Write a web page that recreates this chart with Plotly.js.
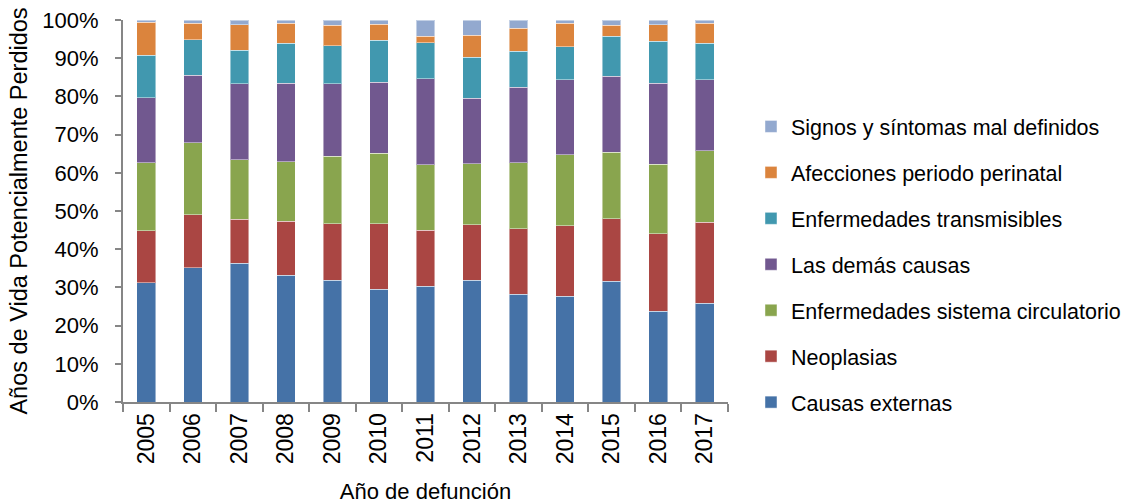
<!DOCTYPE html>
<html>
<head>
<meta charset="utf-8">
<script src="https://cdn.plot.ly/plotly-3.0.1.min.js"></script>
<style>html,body{margin:0;padding:0;background:#fff;}#chart{width:1131px;height:504px;}</style>
</head>
<body>
<div id="chart"></div>
<script>
const years = ['2005','2006','2007','2008','2009','2010','2011','2012','2013','2014','2015','2016','2017'];
const causasExternas = [31.2, 35.1, 36.3, 33.2, 31.9, 29.5, 30.3, 31.9, 28.2, 27.7, 31.6, 23.8, 25.9];
const neoplasias = [13.6, 13.9, 11.5, 14.1, 14.8, 17.2, 14.7, 14.5, 17.2, 18.4, 16.4, 20.3, 21.2];
const circulatorio = [17.8, 18.9, 15.6, 15.6, 17.6, 18.4, 17.1, 16.0, 17.2, 18.6, 17.4, 18.2, 18.7];
const demasCausas = [17.1, 17.6, 19.9, 20.6, 19.0, 18.6, 22.5, 17.1, 19.8, 19.6, 19.9, 21.1, 18.5];
const transmisibles = [11.1, 9.3, 8.8, 10.4, 9.9, 11.0, 9.4, 10.8, 9.4, 8.7, 10.4, 11.0, 9.6];
const perinatal = [8.6, 4.3, 6.7, 5.3, 5.4, 4.2, 1.7, 5.7, 6.0, 6.2, 2.9, 4.4, 5.3];
const signos = [0.6, 0.9, 1.2, 0.8, 1.4, 1.1, 4.3, 4.0, 2.2, 0.8, 1.4, 1.2, 0.8];

const seriesNames = ['Causas externas','Neoplasias','Enfermedades sistema circulatorio','Las demás causas','Enfermedades transmisibles','Afecciones periodo perinatal','Signos y síntomas mal definidos'];
const seriesValues = [causasExternas, neoplasias, circulatorio, demasCausas, transmisibles, perinatal, signos];
const colors = ['#4572A7','#AA4643','#89A54E','#71588F','#4198AF','#DB843D','#93A9CF'];

const FONT = '"Liberation Sans", Arial, sans-serif';

const traces = seriesNames.map((n, i) => ({
  type: 'bar',
  name: n,
  x: years,
  y: seriesValues[i].map(v => v / 100),
  legendgroup: 'g' + i,
  legendrank: 100 - i,
  marker: {color: colors[i], line: {color: 'rgba(255,255,255,0.45)', width: 1}},
  hoverinfo: 'name+y'
}));

const layout = {
  width: 1131, height: 504,
  margin: {l: 123, r: 403, t: 20, b: 102, autoexpand: false},
  barmode: 'stack',
  bargap: 0.6,
  paper_bgcolor: '#fff', plot_bgcolor: '#fff',
  font: {family: FONT, size: 22, color: '#000'},
  xaxis: {
    type: 'category',
    tickangle: -90,
    tickson: 'boundaries',
    ticks: 'outside', ticklen: 8, tickcolor: '#868686', tickwidth: 2,
    showline: true, linecolor: '#868686', linewidth: 2,
    tickfont: {family: FONT, size: 23},
    title: {text: 'Año de defunción', font: {family: FONT, size: 22}, standoff: 20},
    showgrid: false
  },
  yaxis: {
    range: [0, 1],
    tickformat: '.0%',
    dtick: 0.1,
    ticks: 'outside', ticklen: 6, tickcolor: '#868686', tickwidth: 2,
    ticklabelstandoff: 12,
    showline: true, linecolor: '#868686', linewidth: 2,
    showgrid: false, zeroline: false,
    tickfont: {family: FONT, size: 22},
    title: {text: 'Años de Vida Potencialmente Perdidos', font: {family: FONT, size: 23.5}, standoff: 8}
  },
  legend: {
    x: 1.038, xanchor: 'left',
    y: 0.775, yanchor: 'top',
    traceorder: 'grouped',
    tracegroupgap: 15,
    font: {family: FONT, size: 21.5},
    itemwidth: 30
  },
  showlegend: true
};

Plotly.newPlot('chart', traces, layout, {displayModeBar: false, staticPlot: true});
</script>
</body>
</html>
